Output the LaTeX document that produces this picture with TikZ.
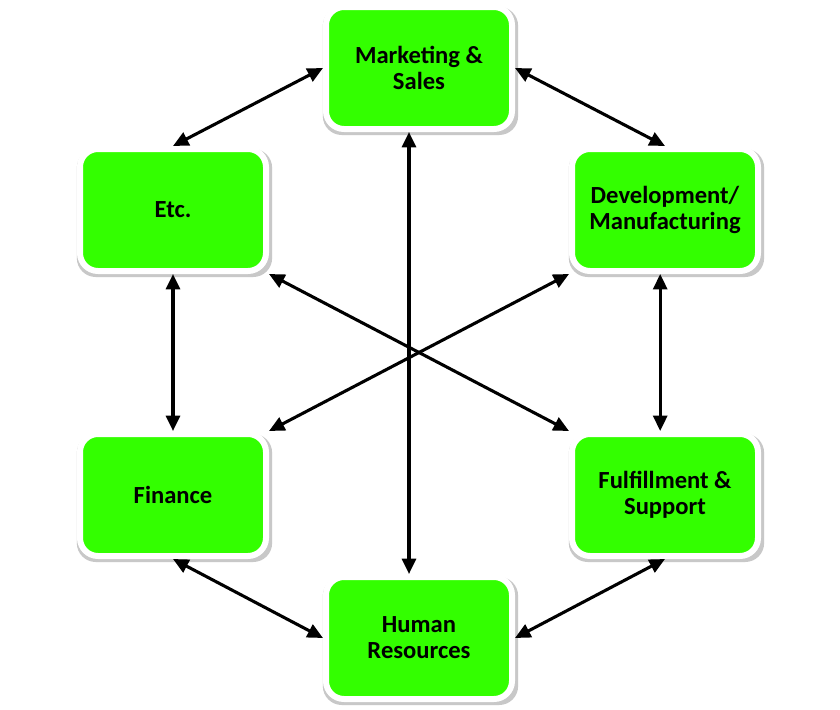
\documentclass[tikz,border=0pt]{standalone}
\usepackage{fontspec}
\setmainfont{Carlito}
\usepackage{tikz}
\usetikzlibrary{arrows.meta,shadows,positioning}
\definecolor{boxgreen}{RGB}{51,255,0}

\begin{document}
\begin{tikzpicture}[
    dept/.style={draw=white, line width=0.15cm, fill=boxgreen, rounded corners=0.45cm,
        minimum width=4.65cm, minimum height=3.05cm, align=center,
        font=\fontsize{17.5}{18.5}\selectfont\bfseries,
        drop shadow={opacity=0.3, fill=black!70, shadow scale=1.05, shadow xshift=1pt, shadow yshift=-2pt}},
    link/.style={{Triangle[length=11pt,width=10pt]}-{Triangle[length=11pt,width=10pt]}, line width=2.2pt}
]
    \useasboundingbox[fill=white] (0,0) rectangle (21,-17.75);

    % Departments
    \node[dept] (mkt) at (10.475,-1.7) {Marketing \&\\Sales};
    \node[dept] (dev) at (16.625,-5.25) {Development/\\Manufacturing};
    \node[dept] (etc) at (4.325,-5.25) {Etc.};
    \node[dept] (fin) at (4.325,-12.375) {Finance};
    \node[dept] (ful) at (16.625,-12.375) {Fulfillment \&\\Support};
    \node[dept] (hr) at (10.475,-15.95) {Human\\Resources};

    % Ring
    \draw[link] (mkt.west) -- (etc.north);
    \draw[link] (mkt.east) -- (dev.north);
    \draw[link] (etc.south) -- (fin.north);
    \draw[link] ([xshift=-0.12cm]dev.south) -- ([xshift=-0.12cm]ful.north);
    \draw[link] (fin.south) -- (hr.west);
    \draw[link] (ful.south) -- (hr.east);

    % Cross links
    \draw[link] ([xshift=-0.25cm]mkt.south) -- ([xshift=-0.25cm]hr.north);
    \draw[link] (etc.south east) -- (ful.north west);
    \draw[link] (dev.south west) -- (fin.north east);
\end{tikzpicture}
\end{document}
